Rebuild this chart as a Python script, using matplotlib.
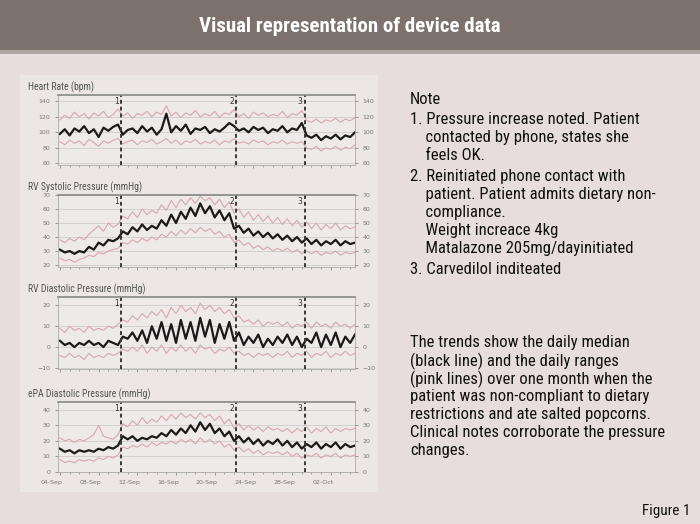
import numpy as np
from matplotlib import pyplot as plt
from matplotlib.patches import Rectangle
from matplotlib.transforms import ScaledTranslation

# дані (2 точки на добу, від 04-Sep)
hr_med = [98, 104, 96, 105, 101, 108, 99, 104, 94, 106, 102, 107, 110, 97,
          103, 105, 99, 108, 101, 106, 97, 104, 124, 100, 108, 102, 110, 98, 105, 103,
          107, 99, 104, 101, 106, 112, 108, 102, 105, 100, 107, 103, 106, 99, 104, 102,
          108, 100, 105, 103, 112, 96, 93, 97, 90, 95, 92, 97, 91, 96, 94, 100]
hr_hi = [116, 122, 118, 126, 120, 124, 117, 125, 121, 127, 119, 123, 130, 121,
         125, 118, 124, 122, 127, 120, 126, 123, 134, 121, 126, 119, 125, 122, 128, 120,
         124, 121, 127, 119, 125, 123, 129, 120, 124, 118, 126, 122, 125, 120, 123, 121,
         127, 119, 124, 122, 128, 115, 113, 117, 112, 116, 114, 118, 113, 117, 115, 119]
hr_lo = [88, 84, 90, 86, 89, 83, 91, 87, 82, 89, 86, 90, 92, 85,
         88, 90, 84, 89, 87, 91, 85, 88, 92, 86, 90, 84, 89, 87, 91, 85,
         88, 86, 90, 84, 89, 87, 92, 86, 88, 85, 90, 87, 89, 84, 88, 86,
         90, 85, 88, 86, 88, 80, 78, 82, 76, 80, 78, 82, 77, 81, 79, 84]

rvs_med = [31, 29, 30, 28, 30, 29, 33, 31, 36, 34, 38, 37, 39, 44,
           42, 47, 44, 49, 45, 48, 46, 52, 48, 56, 50, 58, 53, 61, 55, 64,
           57, 62, 54, 59, 52, 57, 46, 48, 43, 46, 41, 44, 40, 43, 39, 42,
           38, 41, 37, 40, 36, 39, 35, 38, 34, 37, 35, 38, 34, 37, 35, 36]
rvs_hi = [38, 36, 39, 37, 40, 38, 42, 45, 48, 44, 50, 47, 49, 55,
          53, 58, 54, 60, 56, 59, 57, 63, 59, 66, 61, 67, 63, 68, 64, 69,
          66, 68, 63, 67, 61, 65, 57, 60, 54, 58, 52, 56, 51, 55, 50, 54,
          49, 53, 48, 52, 47, 51, 46, 50, 45, 49, 46, 50, 45, 48, 46, 47]
rvs_lo = [25, 23, 24, 22, 24, 25, 27, 26, 29, 28, 30, 31, 32, 36,
          35, 38, 36, 39, 37, 40, 38, 42, 40, 44, 41, 45, 42, 46, 43, 47,
          44, 46, 42, 44, 40, 42, 36, 38, 34, 36, 32, 34, 31, 33, 30, 32,
          30, 32, 29, 31, 28, 30, 28, 30, 27, 29, 28, 30, 27, 29, 28, 29]

rvd_med = [3, 1, 2, 0, 2, 1, 3, 1, 2, 0, 3, 2, 1, 5,
           4, 7, 3, 8, 2, 10, 4, 12, 3, 11, 2, 13, 4, 12, 3, 14,
           5, 13, 2, 11, 4, 12, 3, 7, 1, 5, 2, 6, 0, 4, 1, 5,
           2, 6, 1, 5, 0, 4, 2, 7, 0, 6, 1, 7, 0, 5, 2, 6]
rvd_hi = [9, 7, 10, 8, 9, 7, 10, 8, 9, 8, 10, 9, 11, 13,
          12, 15, 13, 16, 14, 17, 15, 18, 14, 19, 16, 20, 17, 19, 16, 21,
          18, 20, 17, 19, 16, 18, 14, 15, 12, 13, 11, 13, 10, 12, 11, 12,
          10, 12, 9, 11, 10, 12, 9, 12, 10, 11, 9, 12, 10, 11, 9, 11]
rvd_lo = [-4, -5, -3, -5, -4, -6, -3, -5, -4, -5, -3, -4, -3, -1,
          -2, 0, -2, 1, -3, 0, -2, 1, -3, 0, -2, 1, -2, 0, -3, 1,
          -1, 0, -3, -1, -2, 0, -3, -2, -4, -3, -5, -3, -4, -3, -5, -3,
          -4, -2, -5, -3, -4, -2, -5, -3, -4, -2, -5, -3, -4, -2, -4, -3]

epa_med = [15, 13, 14, 12, 14, 13, 14, 13, 15, 14, 16, 15, 17, 23,
           21, 23, 20, 22, 21, 23, 22, 25, 23, 27, 24, 28, 25, 30, 26, 32,
           27, 31, 25, 28, 23, 26, 20, 23, 19, 22, 18, 21, 17, 20, 18, 21,
           17, 20, 16, 19, 15, 18, 16, 19, 15, 18, 16, 19, 15, 18, 16, 17]
epa_hi = [22, 20, 21, 19, 21, 20, 22, 24, 30, 23, 22, 21, 24, 31,
          29, 33, 30, 35, 31, 34, 32, 36, 33, 37, 34, 38, 35, 37, 34, 38,
          35, 37, 33, 36, 31, 34, 28, 31, 27, 30, 27, 29, 26, 29, 27, 28,
          26, 28, 25, 28, 26, 29, 25, 28, 26, 29, 25, 28, 26, 28, 27, 28]
epa_lo = [8, 6, 7, 6, 8, 7, 8, 7, 9, 8, 10, 9, 11, 16,
          15, 17, 16, 18, 16, 19, 17, 19, 18, 20, 18, 21, 19, 21, 18, 22,
          19, 21, 18, 20, 16, 18, 14, 16, 13, 15, 12, 14, 11, 13, 12, 13,
          11, 13, 10, 12, 9, 11, 10, 12, 9, 11, 10, 12, 9, 11, 10, 11]

date_labels = ['04-Sep', '08-Sep', '12-Sep', '16-Sep', '20-Sep', '24-Sep', '28-Sep', '02-Oct']
event_days = [6.3, 18.2, 25.3]
event_labels = ['1', '2', '3']

panel_titles = ['Heart Rate (bpm)', 'RV Systolic Pressure (mmHg)',
                'RV Diastolic Pressure (mmHg)', 'ePA Diastolic Pressure (mmHg)']
panel_ticks = [[60, 80, 100, 120, 140], [20, 30, 40, 50, 60, 70],
               [-10, 0, 10, 20], [0, 10, 20, 30, 40]]
panel_ylim = [(58, 148), (18.6, 70), (-10.5, 24), (0.5, 45)]
panel_pos = [(95, 165), (195, 267), (297, 369), (402, 472)]
series = [(hr_med, hr_hi, hr_lo), (rvs_med, rvs_hi, rvs_lo),
          (rvd_med, rvd_hi, rvd_lo), (epa_med, epa_hi, epa_lo)]

notes = ["Note",
         "1. Pressure increase noted. Patient",
         "    contacted by phone, states she",
         "    feels OK.",
         "2. Reinitiated phone contact with",
         "    patient. Patient admits dietary non-",
         "    compliance.",
         "    Weight increace 4kg",
         "    Matalazone 205mg/dayinitiated",
         "3. Carvedilol inditeated"]
notes_y = [100, 120, 138, 156, 177, 195, 213, 231, 249, 270]
trend_text = ["The trends show the daily median",
              "(black line) and the daily ranges",
              "(pink lines) over one month when the",
              "patient was non-compliant to dietary",
              "restrictions and ate salted popcorns.",
              "Clinical notes corroborate the pressure",
              "changes."]

narrow = ['Roboto Condensed', 'Liberation Sans Narrow', 'DejaVu Sans Condensed',
          'Liberation Sans', 'DejaVu Sans']
W, H = 700, 524
BG = '#e7dddc'
PINK = '#d9a6ad'

fig = plt.figure(figsize=(7, 5.24), dpi=100, facecolor=BG)

# шапка
fig.patches.append(Rectangle((0, 1 - 50 / H), 1, 50 / H, transform=fig.transFigure,
                             facecolor='#7c716c', edgecolor='none', zorder=-10))
fig.patches.append(Rectangle((0, 1 - 54 / H), 1, 4 / H, transform=fig.transFigure,
                             facecolor='#b3a5a2', edgecolor='none', zorder=-10))
fig.text(0.5, 1 - 26 / H, 'Visual representation of device data', ha='center', va='center',
         color='white', fontsize=15, fontweight='bold', family=narrow)

# світліша підкладка під графіками
fig.patches.append(Rectangle((20 / W, 1 - 492 / H), 358 / W, 417 / H, transform=fig.transFigure,
                             facecolor='#ece6e6', edgecolor='none', zorder=-10))

x = np.arange(len(hr_med)) * 0.5
shift = ScaledTranslation(-8 / 100, 0, fig.dpi_scale_trans)
for k in range(4):
    top, bot = panel_pos[k]
    ax = fig.add_axes([58 / W, 1 - bot / H, 297 / W, (bot - top) / H])
    ax.set_facecolor('#eeeaea')
    med, hi, lo = series[k]
    ax.plot(x, hi, color=PINK, lw=0.8)
    ax.plot(x, lo, color=PINK, lw=0.8)
    ax.plot(x, med, color='#1a1a1a', lw=1.6)
    ax.set_xlim(-0.2, 30.5)
    ax.set_ylim(*panel_ylim[k])
    ax.set_yticks(panel_ticks[k])
    ax.grid(axis='y', color='#d0cccc', lw=0.6)
    ax.tick_params(labelsize=4.5, colors='#777777', length=2, width=0.5)
    ax.set_xticks(np.arange(0, 30, 4))
    ax.set_xticks(np.arange(0, 30.5, 1), minor=True)
    ax.tick_params(which='minor', length=1.5, color='#999999')
    if k == 3:
        ax.set_xticklabels(date_labels)
        for lab in ax.get_xticklabels():
            lab.set_transform(lab.get_transform() + shift)
    else:
        ax.set_xticklabels([])
    for sp in ax.spines.values():
        sp.set_color('#aaaaaa')
        sp.set_linewidth(0.6)
    ax.spines['top'].set_color('#888888')
    ax.spines['top'].set_linewidth(1.2)
    ax2 = ax.twinx()
    ax2.set_ylim(*panel_ylim[k])
    ax2.set_yticks(panel_ticks[k])
    ax2.tick_params(labelsize=4.5, colors='#777777', length=2, width=0.5)
    for sp in ax2.spines.values():
        sp.set_visible(False)
    for d, lab in zip(event_days, event_labels):
        ax.axvline(d, color='#3a3a3a', lw=1.4, ls=(0, (2, 1.5)))
        ax.annotate(lab, (d, 1), xycoords=('data', 'axes fraction'), xytext=(-1.5, -1.5),
                    textcoords='offset points', fontsize=5.5, color='#333333',
                    ha='right', va='top', zorder=5)
    fig.text(28 / W, 1 - (top - 8) / H, panel_titles[k], fontsize=7, color='#555555',
             va='center', family=narrow)

# примітки праворуч
for line, yy in zip(notes, notes_y):
    fig.text(410 / W, 1 - yy / H, line, fontsize=12, va='center', family=narrow, color='#111111')
for i, line in enumerate(trend_text):
    fig.text(410 / W, 1 - (343 + 18 * i) / H, line, fontsize=12, va='center',
             family=narrow, color='#111111')
fig.text(690 / W, 1 - 511 / H, 'Figure 1', fontsize=11, ha='right', va='center',
         family=narrow, color='#111111')

fig.savefig('out.png', dpi=100, facecolor=BG)
